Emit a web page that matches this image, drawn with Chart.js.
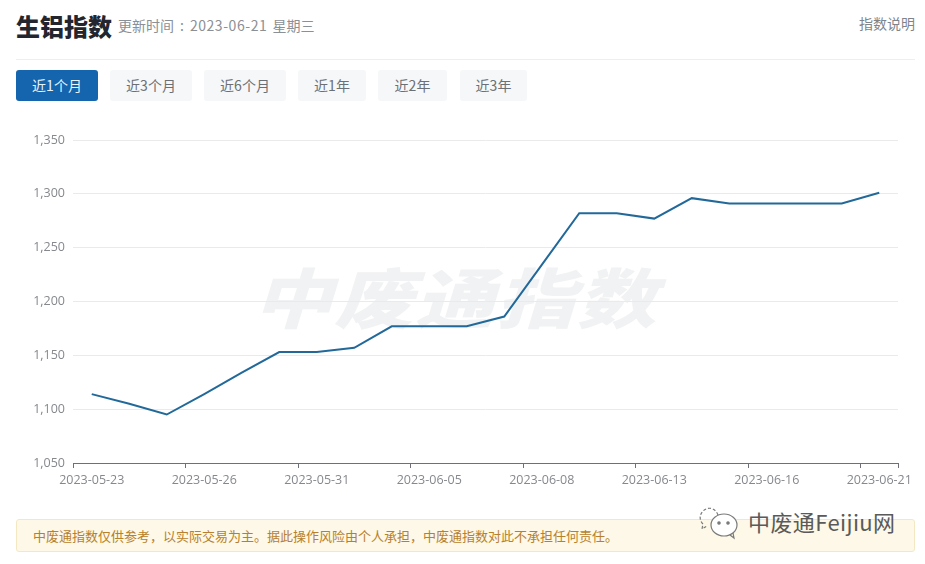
<!DOCTYPE html>
<html>
<head>
<meta charset="utf-8">
<script src="https://cdn.jsdelivr.net/npm/chart.js@4/dist/chart.umd.min.js"></script>
<style>
html, body { margin: 0; padding: 0; background: #fff; }
body { width: 925px; height: 564px; position: relative; overflow: hidden; font-family: "Noto Sans CJK SC", "Open Sans", sans-serif; }
.abs { position: absolute; white-space: nowrap; }
#title { left: 16px; top: 7px; font-size: 24px; line-height: 38px; font-weight: 900; color: #23262e; }
#updated { left: 118px; top: 15px; font-size: 14px; line-height: 20px; color: #8b8f96; }
#updated .sep { margin: 0 6px; }
#updated .date { letter-spacing: 0.55px; margin-right: 2px; }
#explain { right: 10px; top: 13px; font-size: 14px; line-height: 20px; color: #80848a; }
#rule { left: 16px; top: 59px; width: 899px; height: 1px; background: #eceef0; }
.btn { position: absolute; top: 70px; height: 31px; line-height: 31px; text-align: center; font-size: 14px; color: #6b7076; background: #f5f7f8; border-radius: 3px; }
.btn.on { background: #1464ae; color: #e8f4fc; }
#mark { left: 253px; top: 249px; font-size: 79px; line-height: 92px; font-weight: 900; font-style: italic; color: #f1f2f3; letter-spacing: 2px; transform: scaleY(0.82); }
#wrap { position: absolute; left: 0; top: 120px; width: 925px; height: 380px; }
#notice { left: 16px; top: 519px; width: 897px; height: 31px; line-height: 29px; background: #fdf8e7; border: 1px solid #f4e8c3; border-radius: 3px; }
#notice span { margin-left: 16px; font-size: 13px; color: #b8802c; }
#wx { left: 748px; top: 505px; font-size: 22px; line-height: 32px; letter-spacing: 0.4px; color: #5a5a5a; }
#wxicon { position: absolute; left: 698px; top: 506px; }
</style>
</head>
<body>
<div class="abs" id="title">生铝指数</div>
<div class="abs" id="updated">更新时间<span class="sep">:</span><span class="date">2023-06-21</span> 星期三</div>
<div class="abs" id="explain">指数说明</div>
<div class="abs" id="rule"></div>
<div id="buttons"></div>
<div class="abs" id="mark">中废通指数</div>
<div id="wrap"><canvas id="chart"></canvas></div>
<div class="abs" id="notice"><span>中废通指数仅供参考，以实际交易为主。据此操作风险由个人承担，中废通指数对此不承担任何责任。</span></div>
<svg id="wxicon" width="44" height="34" viewBox="0 0 44 34" fill="none" stroke="#7a7a7a" stroke-width="1.2">
  <path d="M20 9 C18 3 12 1 8 3 C2 6 0 13 5 18 L4 23 L9 20" stroke-dasharray="3 2"/>
  <ellipse cx="26" cy="19" rx="13" ry="11" fill="#fff"/>
  <path d="M32 29 L36 32 L35 27"/>
  <circle cx="21" cy="17" r="1.2" fill="#7a7a7a"/>
  <circle cx="30" cy="17" r="1.2" fill="#7a7a7a"/>
</svg>
<div class="abs" id="wx">中废通Feijiu网</div>

<script>
var categories = ["2023-05-23","2023-05-24","2023-05-25","2023-05-26","2023-05-29","2023-05-30","2023-05-31",
    "2023-06-01","2023-06-02","2023-06-05","2023-06-06","2023-06-07","2023-06-08","2023-06-09","2023-06-12",
    "2023-06-13","2023-06-14","2023-06-15","2023-06-16","2023-06-19","2023-06-20","2023-06-21"];
var indexValues = [1114,1105,1095,1114,1134,1153,1153,1157,1177,1177,1177,1186,1234,1282,1282,1277,1296,1291,1291,1291,1291,1301];
var yTicks = [1050,1100,1150,1200,1250,1300,1350];
var rangeLabels = ["近1个月","近3个月","近6个月","近1年","近2年","近3年"];
var rangeLefts = [16,110,204,298,378,460];
var rangeWidths = [82,82,82,68,69,67];
var labelStep = 3;

// Range buttons
var box = document.getElementById("buttons");
rangeLabels.forEach(function(text, i) {
    var b = document.createElement("div");
    b.className = i === 0 ? "btn on" : "btn";
    b.style.left = rangeLefts[i] + "px";
    b.style.width = rangeWidths[i] + "px";
    b.textContent = text;
    box.appendChild(b);
});

var tickFont = { family: "'Open Sans', 'Noto Sans', sans-serif", size: 12.5 };

new Chart(document.getElementById("chart"), {
    type: "line",
    data: {
        labels: categories,
        datasets: [{
            data: indexValues,
            borderColor: "#22699a",
            borderWidth: 2,
            pointRadius: 0,
            tension: 0,
            fill: false
        }]
    },
    options: {
        responsive: true,
        maintainAspectRatio: false,
        animation: false,
        layout: { padding: { top: 20, right: 27, bottom: 0, left: 0 } },
        plugins: { legend: { display: false }, tooltip: { enabled: false } },
        scales: {
            x: {
                offset: true,
                afterFit: function(scale) { scale.height = 37; scale.paddingLeft = 0; scale.paddingRight = 0; },
                border: { color: "#6e7079", width: 1 },
                grid: {
                    offset: true,
                    drawOnChartArea: false,
                    tickLength: 5,
                    tickColor: function(ctx) {
                        if (ctx.index === undefined) return "#6e7079";
                        return ctx.index % labelStep === 0 ? "#6e7079" : "transparent";
                    }
                },
                ticks: {
                    autoSkip: false,
                    maxRotation: 0,
                    minRotation: 0,
                    padding: 5,
                    color: "#85888d",
                    font: tickFont,
                    callback: function(value, index) {
                        return index % labelStep === 0 ? categories[index] : "";
                    }
                }
            },
            y: {
                min: yTicks[0],
                max: yTicks[yTicks.length - 1],
                afterFit: function(scale) { scale.width = 73; },
                border: { display: false },
                grid: { color: "#e8eaec", drawTicks: false, lineWidth: 1 },
                ticks: {
                    stepSize: 50,
                    padding: 8,
                    color: "#85888d",
                    font: tickFont
                }
            }
        }
    }
});
</script>
</body>
</html>
